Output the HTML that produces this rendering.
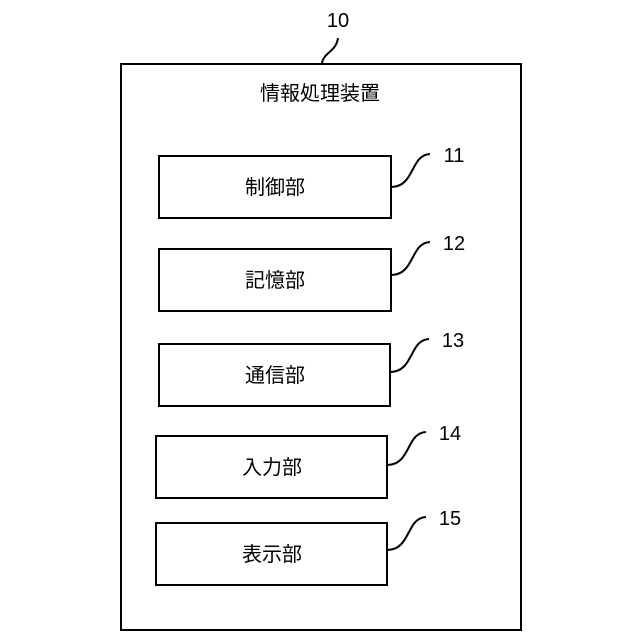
<!DOCTYPE html>
<html><head><meta charset="utf-8"><style>
body{margin:0;background:#fff;}
svg{display:block;font-family:"Liberation Sans","Noto Sans CJK JP",sans-serif;}
</style></head><body>
<svg width="640" height="640" viewBox="0 0 640 640">
<g fill="none" stroke="#000" stroke-width="2">
<rect x="121" y="64" width="400" height="566"/>
<rect x="159" y="156" width="232" height="62"/>
<rect x="159" y="249" width="232" height="62"/>
<rect x="159" y="344" width="231" height="62"/>
<rect x="156" y="436" width="231" height="62"/>
<rect x="156" y="523" width="231" height="62"/>
<path d="M322 63 C324 52,336 52,338 38"/>
<path d="M391 187 C415 187,410 155,430 154"/>
<path d="M391 275 C415 275,410 243,430 242"/>
<path d="M390 372 C414 372,409 340,429 339"/>
<path d="M387 465 C411 465,406 433,426 432"/>
<path d="M387 550 C411 550,406 518,426 517"/>
</g>
<g font-size="20" fill="#000" text-anchor="middle">
<text x="338" y="27">10</text>
<text x="320" y="100">情報処理装置</text>
<text x="275" y="194">制御部</text>
<text x="275" y="287">記憶部</text>
<text x="275" y="382">通信部</text>
<text x="272" y="474">入力部</text>
<text x="272" y="561">表示部</text>
<text x="454" y="162">11</text>
<text x="454" y="250">12</text>
<text x="453" y="347">13</text>
<text x="450" y="440">14</text>
<text x="450" y="525">15</text>
</g>
</svg>
</body></html>
